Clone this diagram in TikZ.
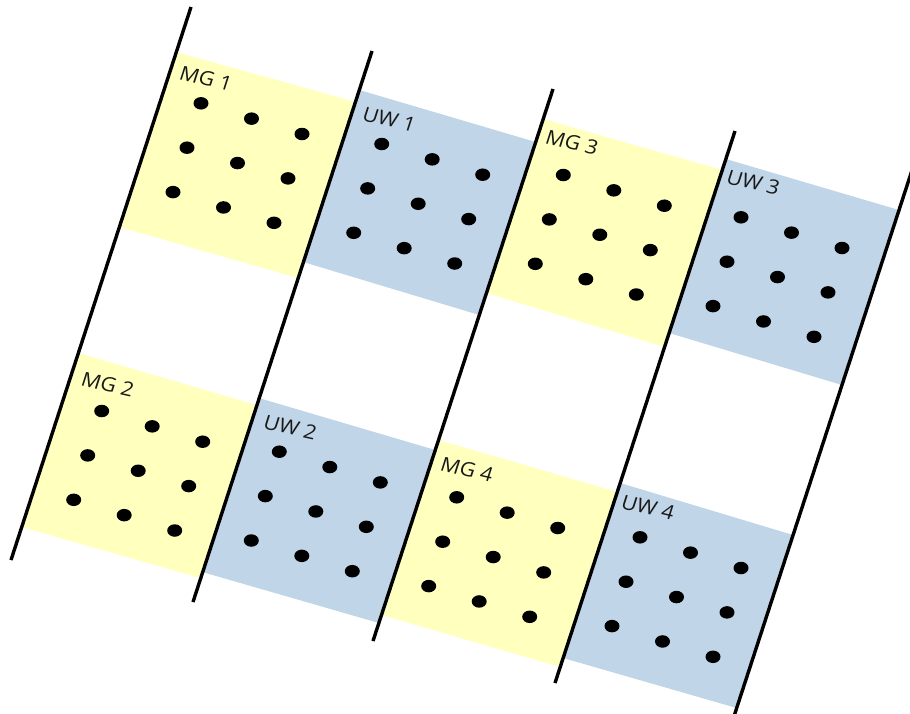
\documentclass[tikz,border=0pt]{standalone}
\usepackage{fontspec}
\setmainfont{Open Sans}
\usetikzlibrary{calc,shapes.geometric}
\definecolor{mgyellow}{RGB}{255,255,190}
\definecolor{uwblue}{RGB}{192,213,232}
\definecolor{labelgray}{RGB}{25,25,25}
\newcommand\dotgrid[3]{%
  \foreach \r in {0,1,2}{\foreach \c in {0,1,2}{%
    \node[dot] (#1-\r\c) at ($(#2,#3)+\c*(50.5,15.35)+\r*(-14,44.4)$) {};}}}
\begin{document}
\begin{tikzpicture}[x=1pt,y=-1pt,
  wall/.style={line width=3.4pt,black},
  mgpatch/.style={fill=mgyellow},
  uwpatch/.style={fill=uwblue},
  dot/.style={ellipse,fill=black,inner sep=0pt,minimum width=15pt,minimum height=12.5pt},
  patchlabel/.style={anchor=base west,inner sep=0pt,font=\fontsize{19}{22}\selectfont,
    text=labelgray,cm={1.1,-0.25,0.32,1,(0,0)}}]
\useasboundingbox (0,0) rectangle (910,713);
% patches
\fill[mgpatch] (176.3,52) -- (355.4,102) -- (298.0,278) -- (119.3,227) -- cycle;
\fill[uwpatch] (359.3,90) -- (535.7,142) -- (479.3,315) -- (303.2,262) -- cycle;
\fill[mgpatch] (543.2,119) -- (722.3,170) -- (664.6,347) -- (486.5,293) -- cycle;
\fill[uwpatch] (725.9,159) -- (899.0,210) -- (842.0,385) -- (669.1,333) -- cycle;
\fill[mgpatch] (78.2,353) -- (256.6,405) -- (200.2,578) -- (21.4,527) -- cycle;
\fill[uwpatch] (258.8,398) -- (435.3,450) -- (378.9,623) -- (202.2,572) -- cycle;
\fill[mgpatch] (438.5,440) -- (617.3,492) -- (560.2,667) -- (381.5,615) -- cycle;
\fill[uwpatch] (620.2,483) -- (793.1,535) -- (736.6,708) -- (563.1,658) -- cycle;
% lines
\coordinate (l1t) at (191,7);   \coordinate (l1b) at (11,560);
\coordinate (l2t) at (372,51);  \coordinate (l2b) at (193,602);
\coordinate (l3t) at (553,89);  \coordinate (l3b) at (373,641);
\coordinate (l4t) at (735,131); \coordinate (l4b) at (555,683);
\coordinate (l5t) at (918.6,150); \coordinate (l5b) at (734.4,715);
\draw[wall] (l1t) -- (l1b);
\draw[wall] (l2t) -- (l2b);
\draw[wall] (l3t) -- (l3b);
\draw[wall] (l4t) -- (l4b);
\draw[wall] (l5t) -- (l5b);
% dots
\dotgrid{mg1}{201}{103.3}
\dotgrid{uw1}{381.7}{144}
\dotgrid{mg3}{563.3}{175}
\dotgrid{uw3}{741}{217.3}
\dotgrid{mg2}{101.7}{411}
\dotgrid{uw2}{279.3}{451.7}
\dotgrid{mg4}{456.7}{497.3}
\dotgrid{uw4}{640}{537.3}
% labels
\node[patchlabel] (lmg1) at (178,79) {MG 1};
\node[patchlabel] (luw1) at (361,120) {UW 1};
\node[patchlabel] (lmg3) at (544,143) {MG 3};
\node[patchlabel] (luw3) at (725,183) {UW 3};
\node[patchlabel] (lmg2) at (79.7,385) {MG 2};
\node[patchlabel] (luw2) at (262,428) {UW 2};
\node[patchlabel] (lmg4) at (439,470) {MG 4};
\node[patchlabel] (luw4) at (619.7,508) {UW 4};
\end{tikzpicture}
\end{document}
